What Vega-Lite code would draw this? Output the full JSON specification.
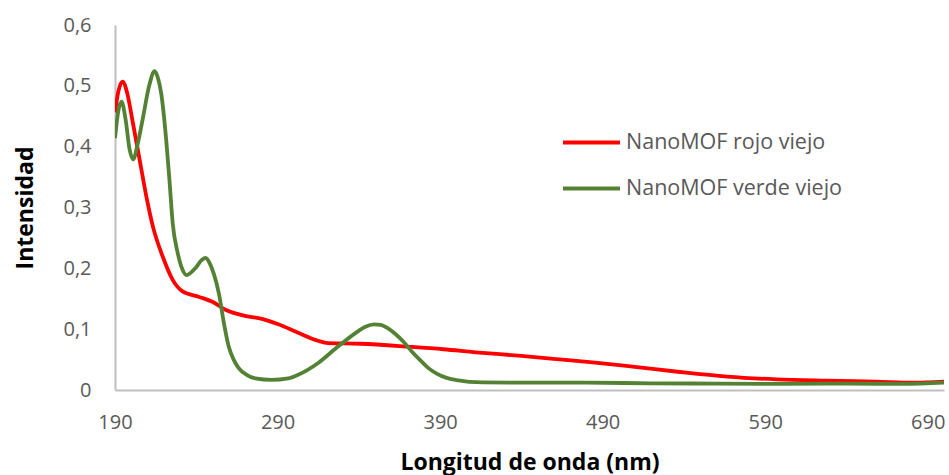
{
  "$schema": "https://vega.github.io/schema/vega-lite/v6.json",
  "width": 829,
  "height": 365,
  "autosize": {"type": "none"},
  "padding": {"left": 115, "top": 25, "right": 5, "bottom": 85},
  "background": "white",
  "config": {
    "view": {"stroke": null},
    "font": "Open Sans",
    "locale": {"number": {"decimal": ",", "thousands": ".", "grouping": [3], "currency": ["", " €"]}}
  },
  "data": {
    "values": [
      {"nm": 190, "v": 0.456, "s": "NanoMOF rojo viejo"},
      {"nm": 192, "v": 0.49, "s": "NanoMOF rojo viejo"},
      {"nm": 194.7, "v": 0.507, "s": "NanoMOF rojo viejo"},
      {"nm": 197.5, "v": 0.488, "s": "NanoMOF rojo viejo"},
      {"nm": 201, "v": 0.439, "s": "NanoMOF rojo viejo"},
      {"nm": 205.2, "v": 0.378, "s": "NanoMOF rojo viejo"},
      {"nm": 209.3, "v": 0.318, "s": "NanoMOF rojo viejo"},
      {"nm": 213.3, "v": 0.269, "s": "NanoMOF rojo viejo"},
      {"nm": 219.4, "v": 0.219, "s": "NanoMOF rojo viejo"},
      {"nm": 225.5, "v": 0.181, "s": "NanoMOF rojo viejo"},
      {"nm": 231.6, "v": 0.162, "s": "NanoMOF rojo viejo"},
      {"nm": 241.8, "v": 0.153, "s": "NanoMOF rojo viejo"},
      {"nm": 249.9, "v": 0.145, "s": "NanoMOF rojo viejo"},
      {"nm": 258, "v": 0.132, "s": "NanoMOF rojo viejo"},
      {"nm": 268.1, "v": 0.123, "s": "NanoMOF rojo viejo"},
      {"nm": 280.3, "v": 0.117, "s": "NanoMOF rojo viejo"},
      {"nm": 290.5, "v": 0.108, "s": "NanoMOF rojo viejo"},
      {"nm": 302.7, "v": 0.094, "s": "NanoMOF rojo viejo"},
      {"nm": 314.8, "v": 0.081, "s": "NanoMOF rojo viejo"},
      {"nm": 321, "v": 0.077, "s": "NanoMOF rojo viejo"},
      {"nm": 341, "v": 0.076, "s": "NanoMOF rojo viejo"},
      {"nm": 371.5, "v": 0.071, "s": "NanoMOF rojo viejo"},
      {"nm": 392, "v": 0.067, "s": "NanoMOF rojo viejo"},
      {"nm": 412, "v": 0.062, "s": "NanoMOF rojo viejo"},
      {"nm": 440, "v": 0.056, "s": "NanoMOF rojo viejo"},
      {"nm": 465, "v": 0.050, "s": "NanoMOF rojo viejo"},
      {"nm": 485.4, "v": 0.045, "s": "NanoMOF rojo viejo"},
      {"nm": 509.7, "v": 0.038, "s": "NanoMOF rojo viejo"},
      {"nm": 536.1, "v": 0.030, "s": "NanoMOF rojo viejo"},
      {"nm": 566.6, "v": 0.022, "s": "NanoMOF rojo viejo"},
      {"nm": 597, "v": 0.0175, "s": "NanoMOF rojo viejo"},
      {"nm": 627.5, "v": 0.0153, "s": "NanoMOF rojo viejo"},
      {"nm": 658, "v": 0.0137, "s": "NanoMOF rojo viejo"},
      {"nm": 682, "v": 0.012, "s": "NanoMOF rojo viejo"},
      {"nm": 700, "v": 0.0137, "s": "NanoMOF rojo viejo"},

      {"nm": 190, "v": 0.414, "s": "NanoMOF verde viejo"},
      {"nm": 192, "v": 0.458, "s": "NanoMOF verde viejo"},
      {"nm": 194, "v": 0.474, "s": "NanoMOF verde viejo"},
      {"nm": 196.5, "v": 0.445, "s": "NanoMOF verde viejo"},
      {"nm": 199, "v": 0.395, "s": "NanoMOF verde viejo"},
      {"nm": 201.2, "v": 0.379, "s": "NanoMOF verde viejo"},
      {"nm": 204, "v": 0.405, "s": "NanoMOF verde viejo"},
      {"nm": 207.3, "v": 0.449, "s": "NanoMOF verde viejo"},
      {"nm": 211, "v": 0.500, "s": "NanoMOF verde viejo"},
      {"nm": 214.4, "v": 0.524, "s": "NanoMOF verde viejo"},
      {"nm": 216.5, "v": 0.512, "s": "NanoMOF verde viejo"},
      {"nm": 218.4, "v": 0.488, "s": "NanoMOF verde viejo"},
      {"nm": 221.5, "v": 0.411, "s": "NanoMOF verde viejo"},
      {"nm": 223.5, "v": 0.345, "s": "NanoMOF verde viejo"},
      {"nm": 225.5, "v": 0.274, "s": "NanoMOF verde viejo"},
      {"nm": 228.6, "v": 0.225, "s": "NanoMOF verde viejo"},
      {"nm": 231.5, "v": 0.198, "s": "NanoMOF verde viejo"},
      {"nm": 234, "v": 0.189, "s": "NanoMOF verde viejo"},
      {"nm": 239.7, "v": 0.201, "s": "NanoMOF verde viejo"},
      {"nm": 243.5, "v": 0.214, "s": "NanoMOF verde viejo"},
      {"nm": 245.8, "v": 0.217, "s": "NanoMOF verde viejo"},
      {"nm": 248.5, "v": 0.207, "s": "NanoMOF verde viejo"},
      {"nm": 250.9, "v": 0.190, "s": "NanoMOF verde viejo"},
      {"nm": 253.9, "v": 0.159, "s": "NanoMOF verde viejo"},
      {"nm": 257, "v": 0.110, "s": "NanoMOF verde viejo"},
      {"nm": 260, "v": 0.071, "s": "NanoMOF verde viejo"},
      {"nm": 263, "v": 0.050, "s": "NanoMOF verde viejo"},
      {"nm": 266.1, "v": 0.036, "s": "NanoMOF verde viejo"},
      {"nm": 271, "v": 0.025, "s": "NanoMOF verde viejo"},
      {"nm": 276.3, "v": 0.019, "s": "NanoMOF verde viejo"},
      {"nm": 286.4, "v": 0.0165, "s": "NanoMOF verde viejo"},
      {"nm": 296.6, "v": 0.019, "s": "NanoMOF verde viejo"},
      {"nm": 302.7, "v": 0.025, "s": "NanoMOF verde viejo"},
      {"nm": 314.8, "v": 0.044, "s": "NanoMOF verde viejo"},
      {"nm": 327, "v": 0.071, "s": "NanoMOF verde viejo"},
      {"nm": 339.2, "v": 0.096, "s": "NanoMOF verde viejo"},
      {"nm": 344, "v": 0.104, "s": "NanoMOF verde viejo"},
      {"nm": 349.4, "v": 0.108, "s": "NanoMOF verde viejo"},
      {"nm": 353.5, "v": 0.107, "s": "NanoMOF verde viejo"},
      {"nm": 357.5, "v": 0.102, "s": "NanoMOF verde viejo"},
      {"nm": 362.5, "v": 0.092, "s": "NanoMOF verde viejo"},
      {"nm": 367.6, "v": 0.079, "s": "NanoMOF verde viejo"},
      {"nm": 372.7, "v": 0.063, "s": "NanoMOF verde viejo"},
      {"nm": 377.8, "v": 0.049, "s": "NanoMOF verde viejo"},
      {"nm": 382.8, "v": 0.036, "s": "NanoMOF verde viejo"},
      {"nm": 387.9, "v": 0.027, "s": "NanoMOF verde viejo"},
      {"nm": 394, "v": 0.020, "s": "NanoMOF verde viejo"},
      {"nm": 400.1, "v": 0.0164, "s": "NanoMOF verde viejo"},
      {"nm": 416.4, "v": 0.0125, "s": "NanoMOF verde viejo"},
      {"nm": 440.7, "v": 0.012, "s": "NanoMOF verde viejo"},
      {"nm": 480, "v": 0.012, "s": "NanoMOF verde viejo"},
      {"nm": 520, "v": 0.011, "s": "NanoMOF verde viejo"},
      {"nm": 560, "v": 0.0105, "s": "NanoMOF verde viejo"},
      {"nm": 600, "v": 0.010, "s": "NanoMOF verde viejo"},
      {"nm": 640, "v": 0.0105, "s": "NanoMOF verde viejo"},
      {"nm": 675, "v": 0.010, "s": "NanoMOF verde viejo"},
      {"nm": 700, "v": 0.012, "s": "NanoMOF verde viejo"}
    ]
  },
  "mark": {"type": "line", "strokeWidth": 3.8, "interpolate": "monotone", "clip": true},
  "encoding": {
    "x": {
      "field": "nm",
      "type": "quantitative",
      "scale": {"domain": [190, 700], "nice": false, "zero": false},
      "axis": {
        "title": "Longitud de onda (nm)",
        "values": [190, 290, 390, 490, 590, 690],
        "format": "d",
        "grid": false,
        "ticks": false,
        "tickSize": 0,
        "domainColor": "#bfbfbf",
        "domainWidth": 2,
        "labelFont": "Open Sans",
        "labelFontSize": 20,
        "labelColor": "#595959",
        "labelPadding": 22,
        "labelFlush": false,
        "titleFont": "Open Sans",
        "titleFontSize": 23,
        "titleFontWeight": "bold",
        "titleColor": "#000000",
        "titlePadding": 19
      }
    },
    "y": {
      "field": "v",
      "type": "quantitative",
      "scale": {"domain": [0, 0.6], "nice": false},
      "axis": {
        "title": "Intensidad",
        "values": [0, 0.1, 0.2, 0.3, 0.4, 0.5, 0.6],
        "format": "~g",
        "grid": false,
        "ticks": false,
        "tickSize": 0,
        "domainColor": "#bfbfbf",
        "domainWidth": 2,
        "labelFont": "Open Sans",
        "labelFontSize": 20,
        "labelColor": "#595959",
        "labelPadding": 24,
        "labelFlush": false,
        "titleFont": "Open Sans",
        "titleFontSize": 23,
        "titleFontWeight": "bold",
        "titleColor": "#000000",
        "titlePadding": 25
      }
    },
    "color": {
      "field": "s",
      "type": "nominal",
      "scale": {"domain": ["NanoMOF rojo viejo", "NanoMOF verde viejo"], "range": ["#ff0000", "#548235"]},
      "legend": {
        "title": null,
        "orient": "none",
        "legendX": 446,
        "legendY": 87,
        "symbolType": "stroke",
        "symbolSize": 3249,
        "symbolStrokeWidth": 4,
        "labelFont": "Open Sans",
        "labelFontSize": 21.5,
        "labelColor": "#595959",
        "labelOffset": 4,
        "labelLimit": 400,
        "rowPadding": 5
      }
    }
  }
}
